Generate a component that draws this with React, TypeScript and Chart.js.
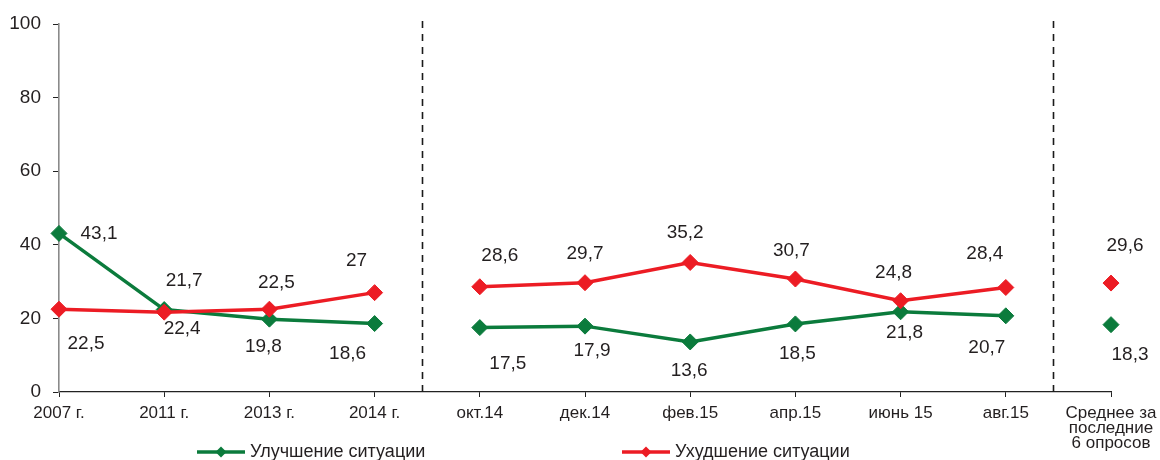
import { useEffect, useRef } from 'react';
import { Chart, registerables } from 'chart.js';

Chart.register(...registerables);

const categories: (string | string[])[] = [
  '2007 г.', '2011 г.', '2013 г.', '2014 г.',
  'окт.14', 'дек.14', 'фев.15', 'апр.15', 'июнь 15', 'авг.15',
  ['Среднее за', 'последние', '6 опросов'],
];
const improvement = [43.1, 22.4, 19.8, 18.6, 17.5, 17.9, 13.6, 18.5, 21.8, 20.7, 18.3];
const deterioration = [22.5, 21.7, 22.5, 27, 28.6, 29.7, 35.2, 30.7, 24.8, 28.4, 29.6];
const seriesNames = ['Улучшение ситуации', 'Ухудшение ситуации'];
const yMin = 0;
const yMax = 100;
const yStep = 20;
// segments that are not connected (break after these category indexes)
const breakAfter = [3, 9];
// dashed separators between groups (category-scale positions)
const separatorsAt = [3.45, 9.45];

// label placement offsets (px) relative to each point
const improvementLabelDx = [40, 18, -6, -27, 28, 7, -1, 2, 4, -19, 19];
const improvementLabelDy = [0, 19, 28, 30, 36, 25, 29, 30, 21, 32, 30];
const deteriorationLabelDx = [27, 20, 7, -18, 20, 0, -5, -4, -7, -21, 14];
const deteriorationLabelDy = [35, -31, -26, -32, -31, -29, -30, -28, -28, -34, -37];

const GREEN = '#0b7b3c';
const RED = '#ec1c24';
const TEXT = '#231f20';
const FONT = '"Liberation Sans", Arial, Helvetica, sans-serif';

const legendItems = [
  { x: 197, color: GREEN, name: seriesNames[0] },
  { x: 622, color: RED, name: seriesNames[1] },
];

const fmt = (v: number) => String(v).replace('.', ',');

const overlayPlugin = {
  id: 'overlay',
  afterDraw(chart: any) {
    const ctx = chart.ctx as CanvasRenderingContext2D;
    const xs = chart.scales.x;
    const area = chart.chartArea;
    ctx.save();
    // dashed separators
    ctx.strokeStyle = '#1a1a1a';
    ctx.lineWidth = 1.6;
    ctx.setLineDash([7, 6]);
    separatorsAt.forEach((v) => {
      const px = Math.round(xs.getPixelForValue(v)) + 0.5;
      ctx.beginPath();
      ctx.moveTo(px, area.top - 3);
      ctx.lineTo(px, area.bottom);
      ctx.stroke();
    });
    ctx.setLineDash([]);

    // data labels
    ctx.font = `19px ${FONT}`;
    ctx.fillStyle = TEXT;
    ctx.textAlign = 'center';
    ctx.textBaseline = 'middle';
    const specs = [
      { values: improvement, dx: improvementLabelDx, dy: improvementLabelDy, idx: 0 },
      { values: deterioration, dx: deteriorationLabelDx, dy: deteriorationLabelDy, idx: 1 },
    ];
    specs.forEach((s) => {
      const meta = chart.getDatasetMeta(s.idx);
      meta.data.forEach((pt: any, i: number) => {
        ctx.fillText(fmt(s.values[i]), pt.x + s.dx[i], pt.y + s.dy[i]);
      });
    });

    // legend
    const ly = 452;
    legendItems.forEach((it) => {
      ctx.strokeStyle = it.color;
      ctx.fillStyle = it.color;
      ctx.lineWidth = 3.5;
      ctx.beginPath();
      ctx.moveTo(it.x, ly);
      ctx.lineTo(it.x + 48, ly);
      ctx.stroke();
      const cx = it.x + 24;
      const r = 5.5;
      ctx.beginPath();
      ctx.moveTo(cx, ly - r);
      ctx.lineTo(cx + r, ly);
      ctx.lineTo(cx, ly + r);
      ctx.lineTo(cx - r, ly);
      ctx.closePath();
      ctx.fill();
      ctx.fillStyle = TEXT;
      ctx.font = `18px ${FONT}`;
      ctx.textAlign = 'left';
      ctx.textBaseline = 'middle';
      ctx.fillText(it.name, it.x + 53, ly);
    });
    ctx.restore();
  },
};

export default function App() {
  const ref = useRef<HTMLCanvasElement | null>(null);
  useEffect(() => {
    document.body.style.margin = '0';
    const canvas = ref.current;
    if (!canvas) return;
    const seg = (color: string) => ({
      borderColor: (c: any) => (breakAfter.includes(c.p0DataIndex) ? 'rgba(0,0,0,0)' : color),
    });
    const chart = new Chart(canvas, {
      type: 'line',
      data: {
        labels: categories as any,
        datasets: [
          {
            label: seriesNames[0],
            data: improvement,
            borderColor: GREEN,
            backgroundColor: GREEN,
            borderWidth: 3.5,
            pointStyle: 'rectRot',
            pointRadius: 8,
            pointBorderWidth: 1,
            pointBorderColor: GREEN,
            pointBackgroundColor: GREEN,
            tension: 0,
            order: 2,
            segment: seg(GREEN),
          },
          {
            label: seriesNames[1],
            data: deterioration,
            borderColor: RED,
            backgroundColor: RED,
            borderWidth: 3.5,
            pointStyle: 'rectRot',
            pointRadius: 8,
            pointBorderWidth: 1,
            pointBorderColor: RED,
            pointBackgroundColor: RED,
            tension: 0,
            order: 1,
            segment: seg(RED),
          },
        ],
      },
      options: {
        responsive: false,
        animation: false,
        layout: { padding: { top: 24, right: 49, bottom: 0, left: 0 } },
        plugins: {
          legend: { display: false },
          tooltip: { enabled: false },
        },
        scales: {
          x: {
            type: 'category',
            offset: false,
            grid: { drawOnChartArea: false, drawTicks: true, tickLength: 5, color: '#222', lineWidth: 1 },
            border: { color: '#222', width: 1.2 },
            ticks: {
              font: { family: FONT, size: 17, lineHeight: 0.87 },
              color: TEXT,
              padding: 9,
              maxRotation: 0,
              autoSkip: false,
            },
            afterFit: (s: any) => {
              s.height = 68;
              s.paddingLeft = 0;
              s.paddingRight = 0;
            },
          },
          y: {
            min: yMin,
            max: yMax,
            grid: { drawOnChartArea: false, drawTicks: true, tickLength: 6, color: '#222', lineWidth: 1 },
            border: { color: '#8a8a8a', width: 1.6 },
            ticks: {
              stepSize: yStep,
              font: { family: FONT, size: 19 },
              color: TEXT,
              padding: 12,
            },
            afterFit: (s: any) => {
              s.width = 59;
              s.paddingTop = 0;
              s.paddingBottom = 0;
            },
          },
        },
      },
      plugins: [overlayPlugin],
    });
    return () => chart.destroy();
  }, []);
  return <canvas ref={ref} width={1160} height={460} style={{ display: 'block', width: 1160, height: 460 }} />;
}
